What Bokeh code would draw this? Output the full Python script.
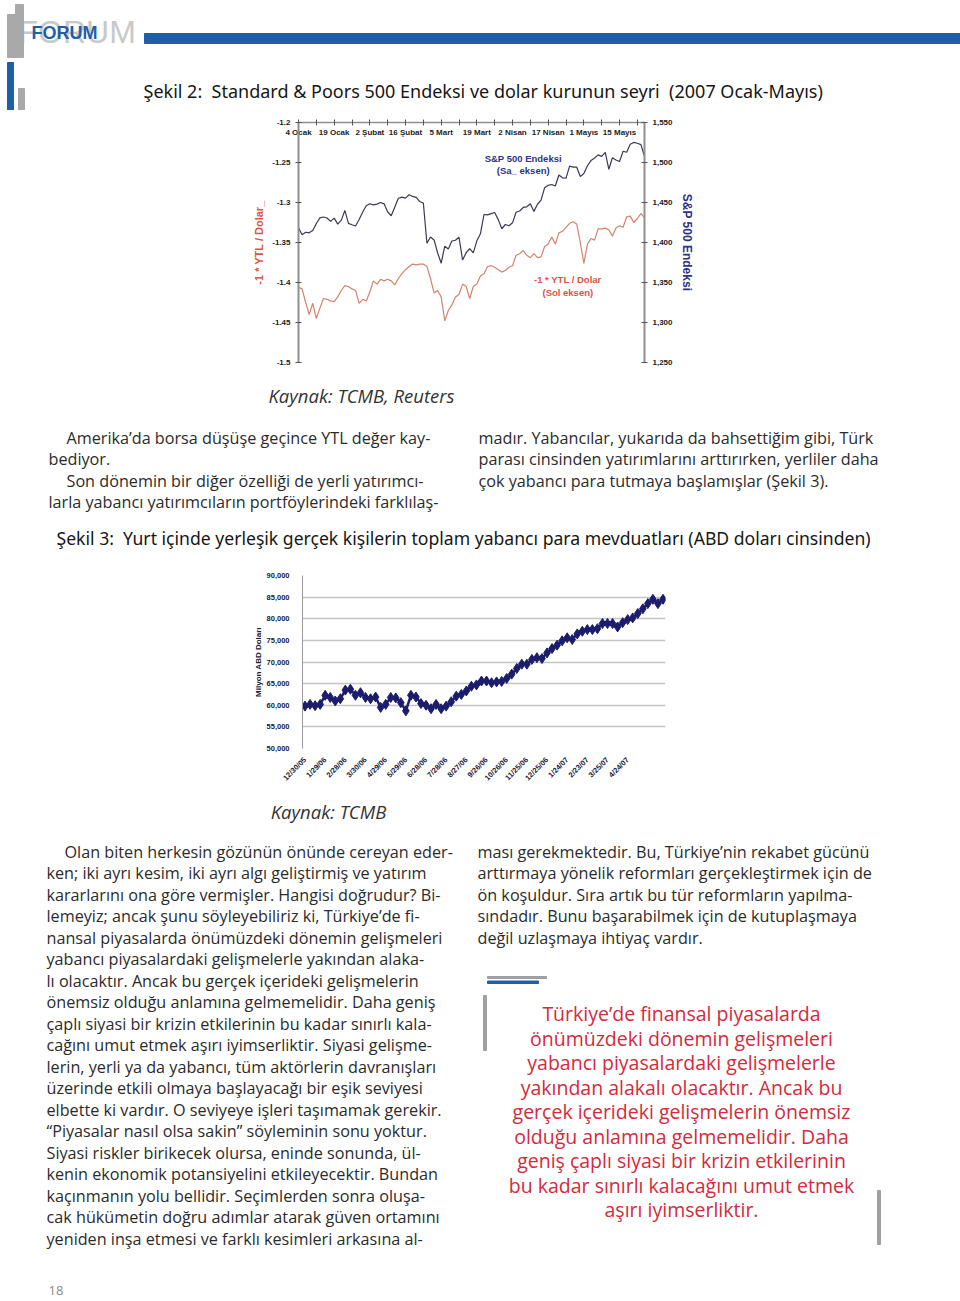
import math
from bokeh.plotting import figure
from bokeh.models import Range1d, LinearAxis, FixedTicker, NumeralTickFormatter, Grid
from bokeh.embed import file_html
from bokeh.resources import INLINE
from bokeh.core.properties import value

# ---------------- data: Şekil 2 (daily, 4 Ocak - 24 Mayıs 2007) ----------------
sp500 = [1418.3, 1409.7, 1412.8, 1412.1, 1414.9, 1423.8, 1430.7, 1431.9, 1430.6, 1426.4,
         1430.5, 1423.0, 1428.0, 1440.1, 1423.9, 1422.2, 1420.6, 1428.8, 1438.2, 1445.9,
         1448.4, 1447.0, 1448.0, 1450.0, 1448.3, 1438.1, 1433.4, 1444.3, 1455.3, 1456.8,
         1455.5, 1459.7, 1457.6, 1456.4, 1451.2, 1449.4, 1399.0, 1406.8, 1403.2, 1387.2,
         1374.1, 1395.4, 1392.0, 1401.9, 1402.8, 1406.6, 1378.0, 1387.2, 1392.3, 1387.0,
         1402.1, 1410.9, 1435.0, 1434.5, 1436.1, 1437.5, 1428.6, 1417.2, 1422.5, 1420.9,
         1424.6, 1437.8, 1439.4, 1443.8, 1444.6, 1448.4, 1438.9, 1447.8, 1452.9, 1468.5,
         1471.5, 1472.5, 1470.7, 1484.4, 1480.9, 1480.4, 1495.4, 1494.3, 1494.1, 1482.4,
         1486.3, 1495.9, 1502.4, 1505.6, 1509.5, 1507.7, 1512.6, 1491.5, 1505.9, 1503.2,
         1501.2, 1514.1, 1512.8, 1522.8, 1525.1, 1524.1, 1522.3, 1507.5]

ytl_neg = [-1.406, -1.408, -1.425, -1.440, -1.426, -1.445, -1.432, -1.420, -1.421, -1.423,
           -1.424, -1.418, -1.410, -1.404, -1.405, -1.408, -1.410, -1.426, -1.421, -1.423,
           -1.412, -1.398, -1.402, -1.396, -1.398, -1.396, -1.398, -1.403, -1.395, -1.389,
           -1.384, -1.380, -1.377, -1.378, -1.377, -1.377, -1.380, -1.395, -1.413, -1.410,
           -1.418, -1.448, -1.435, -1.428, -1.418, -1.415, -1.402, -1.405, -1.420, -1.405,
           -1.402, -1.392, -1.389, -1.380, -1.379, -1.381, -1.384, -1.387, -1.385, -1.381,
           -1.379, -1.366, -1.364, -1.360, -1.366, -1.369, -1.364, -1.369, -1.368, -1.355,
           -1.352, -1.343, -1.352, -1.338, -1.336, -1.331, -1.326, -1.324, -1.327, -1.350,
           -1.376, -1.352, -1.345, -1.347, -1.333, -1.333, -1.332, -1.334, -1.342, -1.332,
           -1.329, -1.331, -1.318, -1.317, -1.325, -1.320, -1.314, -1.319]

x1_labels = ["4 Ocak", "19 Ocak", "2 Şubat", "16 Şubat", "5 Mart",
             "19 Mart", "2 Nisan", "17 Nisan", "1 Mayıs", "15 Mayıs"]
y1_left_ticks = [-1.5, -1.45, -1.4, -1.35, -1.3, -1.25, -1.2]
y1_left_labels = ["-1.5", "-1.45", "-1.4", "-1.35", "-1.3", "-1.25", "-1.2"]
y1_right_ticks = [1250, 1300, 1350, 1400, 1450, 1500, 1550]

# ---------------- data: Şekil 3 (milyon ABD doları) ----------------
deposits = [59800, 60200, 59900, 60200, 62300, 61800, 61000, 61500, 63500, 63700,
            62300, 62900, 61800, 61500, 61900, 59500, 60200, 61800, 61700, 60600,
            58700, 62300, 61900, 60400, 60000, 59200, 60200, 59200, 59800, 60800,
            62100, 62500, 63300, 64400, 64700, 65600, 65600, 65200, 65400, 65500,
            66200, 67200, 68500, 69500, 69500, 70600, 71000, 70800, 72100, 73100,
            73900, 74900, 75600, 75200, 76500, 77100, 77500, 77500, 77700, 78900,
            78900, 78900, 78100, 79100, 79800, 80200, 81200, 82300, 83500, 84500,
            83500, 84500]
x2_labels = ["12/30/05", "1/29/06", "2/28/06", "3/30/06", "4/29/06", "5/29/06",
             "6/28/06", "7/28/06", "8/27/06", "9/26/06", "10/26/06", "11/25/06",
             "12/25/06", "1/24/07", "2/23/07", "3/25/07", "4/24/07"]
y2_ticks = [50000, 55000, 60000, 65000, 70000, 75000, 80000, 85000, 90000]

# ---------------- texts ----------------
NB = "\u00a0"
title2 = "Şekil 2:" + NB + " Standard & Poors 500 Endeksi ve dolar kurunun seyri" + NB + " (2007 Ocak-Mayıs)"
title3 = "Şekil 3:" + NB + " Yurt içinde yerleşik gerçek kişilerin toplam yabancı para mevduatları (ABD doları cinsinden)"
para1_left = ["Amerika’da borsa düşüşe geçince YTL değer kay-",
              "bediyor.",
              "Son dönemin bir diğer özelliği de yerli yatırımcı-",
              "larla yabancı yatırımcıların portföylerindeki farklılaş-"]
para1_left_indent = [1, 0, 1, 0]
para1_right = ["madır. Yabancılar, yukarıda da bahsettiğim gibi, Türk",
               "parası cinsinden yatırımlarını arttırırken, yerliler daha",
               "çok yabancı para tutmaya başlamışlar (Şekil 3)."]
para2_left = ["Olan biten herkesin gözünün önünde cereyan eder-",
              "ken; iki ayrı kesim, iki ayrı algı geliştirmiş ve yatırım",
              "kararlarını ona göre vermişler. Hangisi doğrudur? Bi-",
              "lemeyiz; ancak şunu söyleyebiliriz ki, Türkiye’de fi-",
              "nansal piyasalarda önümüzdeki dönemin gelişmeleri",
              "yabancı piyasalardaki gelişmelerle yakından alaka-",
              "lı olacaktır. Ancak bu gerçek içerideki gelişmelerin",
              "önemsiz olduğu anlamına gelmemelidir. Daha geniş",
              "çaplı siyasi bir krizin etkilerinin bu kadar sınırlı kala-",
              "cağını umut etmek aşırı iyimserliktir. Siyasi gelişme-",
              "lerin, yerli ya da yabancı, tüm aktörlerin davranışları",
              "üzerinde etkili olmaya başlayacağı bir eşik seviyesi",
              "elbette ki vardır. O seviyeye işleri taşımamak gerekir.",
              "“Piyasalar nasıl olsa sakin” söyleminin sonu yoktur.",
              "Siyasi riskler birikecek olursa, eninde sonunda, ül-",
              "kenin ekonomik potansiyelini etkileyecektir. Bundan",
              "kaçınmanın yolu bellidir. Seçimlerden sonra oluşa-",
              "cak hükümetin doğru adımlar atarak güven ortamını",
              "yeniden inşa etmesi ve farklı kesimleri arkasına al-"]
para2_right = ["ması gerekmektedir. Bu, Türkiye’nin rekabet gücünü",
               "arttırmaya yönelik reformları gerçekleştirmek için de",
               "ön koşuldur. Sıra artık bu tür reformların yapılma-",
               "sındadır. Bunu başarabilmek için de kutuplaşmaya",
               "değil uzlaşmaya ihtiyaç vardır."]
quote = ["Türkiye’de finansal piyasalarda",
         "önümüzdeki dönemin gelişmeleri",
         "yabancı piyasalardaki gelişmelerle",
         "yakından alakalı olacaktır. Ancak bu",
         "gerçek içerideki gelişmelerin önemsiz",
         "olduğu anlamına gelmemelidir. Daha",
         "geniş çaplı siyasi bir krizin etkilerinin",
         "bu kadar sınırlı kalacağını umut etmek",
         "aşırı iyimserliktir."]

W = 960
BODY = value("Open Sans")
BODY_SIZE = "16.2px"
BODY_COLOR = "#2b2b2b"
ARIAL = "Liberation Sans"
TITLE_FONT = value("Noto Sans")


def canvas(top, bottom):
    p = figure(width=W, height=bottom - top, x_range=Range1d(0, W),
               y_range=Range1d(bottom, top), x_axis_type=None, y_axis_type=None,
               output_backend="svg", toolbar_location=None, min_border=0)
    p.outline_line_color = None
    p.background_fill_color = "white"
    return p


def lines(p, xs, y0, step, texts, **kw):
    ys = [y0 + i * step for i in range(len(texts))]
    p.text(x=xs, y=ys, text=texts, text_baseline="middle", **kw)


# ---------------- header ----------------
pA = canvas(0, 110)
pA.text(x=[18], y=[31], text=["FORUM"], text_font=value(ARIAL), text_font_size="32px",
        text_color="#c9c9c9", text_baseline="middle")
pA.quad(left=[7, 15], right=[23, 23], top=[14, 4], bottom=[57, 14], color="#a9a9a9")
pA.text(x=[31], y=[32], text=["FORUM"], text_font=value(ARIAL), text_font_style="bold",
        text_font_size="18px", text_color="#1f5fa8", text_baseline="middle")
pA.quad(left=[144], right=[960], top=[33], bottom=[43], color="#1f5fa8")
pA.quad(left=[7], right=[13], top=[62], bottom=[110], color="#1f5fa8")
pA.quad(left=[18], right=[24], top=[88], bottom=[110], color="#a9a9a9")
pA.text(x=[143], y=[90], text=[title2], text_font=TITLE_FONT, text_font_size="18px",
        text_color="#161616", text_baseline="middle")

# ---------------- Şekil 2 chart ----------------
n1 = len(sp500)
x1 = list(range(n1))
p1 = figure(width=W, height=265, x_range=Range1d(0, n1 - 1), y_range=Range1d(-1.5, -1.2),
            x_axis_type=None, y_axis_type=None, output_backend="svg", toolbar_location=None,
            min_border_left=298, min_border_right=316, min_border_top=12, min_border_bottom=13)
p1.extra_y_ranges = {"sp": Range1d(1250, 1550)}
p1.outline_line_color = None

axis_gray = "#8f8f8f"
axl = LinearAxis(ticker=FixedTicker(ticks=y1_left_ticks),
                 major_label_overrides=dict(zip(y1_left_ticks, y1_left_labels)),
                 axis_label="-1 * YTL / Dolar_")
axr = LinearAxis(y_range_name="sp", ticker=FixedTicker(ticks=y1_right_ticks),
                 formatter=NumeralTickFormatter(format="0,0"), axis_label="S&P 500 Endeksi")
top_ticks = list(range(0, n1, 5))
top_over = {t: "" for t in top_ticks}
for i, lab in enumerate(x1_labels):
    top_over[i * 10] = lab
axt = LinearAxis(ticker=FixedTicker(ticks=top_ticks), major_label_overrides=top_over)
for ax in (axl, axr, axt):
    ax.axis_line_color = axis_gray
    ax.axis_line_width = 2
    ax.major_tick_line_color = "#555555"
    ax.major_tick_in = 3
    ax.major_tick_out = 3
    ax.minor_tick_line_color = None
    ax.major_label_text_font = ARIAL
    ax.major_label_text_font_style = "bold"
    ax.major_label_text_font_size = "8px"
    ax.major_label_text_color = "#222222"
    ax.major_label_standoff = 5
axl.axis_label_text_font = ARIAL
axl.axis_label_text_font_style = "bold"
axl.axis_label_text_font_size = "11px"
axl.axis_label_text_color = "#e0533f"
axl.axis_label_standoff = 4
axr.axis_label_text_font = ARIAL
axr.axis_label_text_font_style = "bold"
axr.axis_label_text_font_size = "12px"
axr.axis_label_text_color = "#2f3387"
axr.axis_label_standoff = 4
axt.axis_line_width = 1.5
axt.major_label_standoff = -17
p1.add_layout(axl, "left")
p1.add_layout(axr, "right")
p1.add_layout(axt, "above")

p1.line(x1, ytl_neg, line_color="#d5826f", line_width=1.2)
p1.line(x1, sp500, y_range_name="sp", line_color="#3a3a52", line_width=1.2)
p1.text(x=[63, 63], y=[-1.2454, -1.2604], text=["S&P 500 Endeksi", "(Sa_ eksen)"],
        text_font=value(ARIAL), text_font_style="bold", text_font_size="9.5px",
        text_color="#2f3387", text_align="center", text_baseline="middle")
p1.text(x=[75.5, 75.5], y=[-1.3966, -1.4128], text=["-1 * YTL / Dolar", "(Sol eksen)"],
        text_font=value(ARIAL), text_font_style="bold", text_font_size="9.5px",
        text_color="#e0533f", text_align="center", text_baseline="middle")

# ---------------- middle text ----------------
pM = canvas(375, 560)
pM.text(x=[361], y=[395], text=["Kaynak: TCMB, Reuters"], text_font=BODY,
        text_font_style="italic", text_font_size="18.5px", text_color="#333333",
        text_align="center", text_baseline="middle")
lines(pM, [48 + 18 * k for k in para1_left_indent], 437, 21.6, para1_left,
      text_font=BODY, text_font_size=BODY_SIZE, text_color=BODY_COLOR)
lines(pM, [478] * len(para1_right), 437, 21.6, para1_right,
      text_font=BODY, text_font_size=BODY_SIZE, text_color=BODY_COLOR)
pM.text(x=[56], y=[537], text=[title3], text_font=TITLE_FONT, text_font_size="17.6px",
        text_color="#161616", text_baseline="middle")

# ---------------- Şekil 3 chart ----------------
n2 = len(deposits)
x2 = list(range(n2))
p2 = figure(width=W, height=235, x_range=Range1d(-0.5, n2 - 0.5), y_range=Range1d(50000, 90000),
            x_axis_type=None, y_axis_type=None, output_backend="svg", toolbar_location=None,
            min_border_left=302, min_border_right=295, min_border_top=15, min_border_bottom=47)
p2.outline_line_color = None
ay2 = LinearAxis(ticker=FixedTicker(ticks=y2_ticks), formatter=NumeralTickFormatter(format="0,0"),
                 axis_label="Milyon ABD Doları")
ax2 = LinearAxis(ticker=FixedTicker(ticks=[i * 4 for i in range(len(x2_labels))]),
                 major_label_overrides={i * 4: lab for i, lab in enumerate(x2_labels)},
                 major_label_orientation=math.pi / 4)
for ax in (ay2, ax2):
    ax.major_tick_line_color = None
    ax.minor_tick_line_color = None
    ax.major_label_text_font = ARIAL
    ax.major_label_text_font_style = "bold"
    ax.major_label_text_font_size = "7.5px"
    ax.major_label_text_color = "#20203a"
ay2.axis_line_color = "#9a9a9a"
ay2.axis_line_width = 1
ay2.major_label_standoff = 7
ay2.axis_label_text_font = ARIAL
ay2.axis_label_text_font_style = "bold"
ay2.axis_label_text_font_size = "8px"
ay2.axis_label_text_color = "#20203a"
ay2.axis_label_standoff = 1
ax2.axis_line_color = None
ax2.major_label_standoff = 4
p2.add_layout(ay2, "left")
p2.add_layout(ax2, "below")
p2.add_layout(Grid(dimension=1, ticker=ay2.ticker, grid_line_color="#c4c4c4", grid_line_width=1.6))
p2.line(x2, deposits, line_color="#1c1c6c", line_width=2.5)
p2.scatter(x2, deposits, marker="diamond", size=10, color="#1c1c6c")

# ---------------- bottom text ----------------
pB = canvas(795, 1298)
pB.text(x=[328], y=[811], text=["Kaynak: TCMB"], text_font=BODY, text_font_style="italic",
        text_font_size="18.5px", text_color="#333333", text_align="center", text_baseline="middle")
lines(pB, [64] + [46] * (len(para2_left) - 1), 851, 21.5, para2_left,
      text_font=BODY, text_font_size=BODY_SIZE, text_color=BODY_COLOR)
lines(pB, [477] * len(para2_right), 851, 21.5, para2_right,
      text_font=BODY, text_font_size=BODY_SIZE, text_color=BODY_COLOR)
pB.quad(left=[487], right=[546], top=[976], bottom=[978], color="#a0a0a0")
pB.quad(left=[487], right=[538], top=[980.5], bottom=[983], color="#1f5fa8")
pB.quad(left=[483], right=[486], top=[995], bottom=[1050], color="#a0a0a0")
pB.quad(left=[877], right=[880], top=[1190], bottom=[1244], color="#a0a0a0")
lines(pB, [681] * len(quote), 1013, 24.5, quote, text_font=BODY, text_font_size="19.5px",
      text_color="#d42a3c", text_align="center")
pB.text(x=[48], y=[1290], text=["18"], text_font=BODY, text_font_size="13px",
        text_color="#8a8a8a", text_baseline="middle")

open("out.html", "w").write(file_html([pA, p1, pM, p2, pB], INLINE))
